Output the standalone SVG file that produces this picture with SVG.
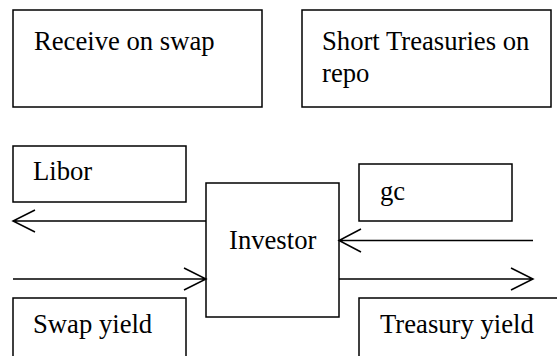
<svg xmlns="http://www.w3.org/2000/svg" width="557" height="356" viewBox="0 0 557 356">
<style>
.box{fill:#fff;stroke:#000;stroke-width:1.5}
.t{font-family:'Liberation Serif','DejaVu Serif',serif;font-size:26.67px;fill:#000}
.c{fill:none;stroke:#000;stroke-width:1.5}
</style>
<rect width="557" height="356" fill="#fff"/>
<g id="receive-on-swap"><rect class="box" x="13" y="10" width="249" height="97"/><text class="t" x="34" y="50">Receive on swap</text></g>
<g id="short-treasuries"><rect class="box" x="302" y="10" width="249" height="97"/><text class="t" x="322" y="50">Short Treasuries on</text><text class="t" x="322" y="82">repo</text></g>
<g id="libor"><rect class="box" x="13" y="146" width="173" height="56"/><text class="t" x="33" y="180">Libor</text></g>
<g id="gc"><rect class="box" x="359" y="164" width="153" height="57"/><text class="t" x="380" y="200">gc</text></g>
<g id="investor"><rect class="box" x="206" y="183" width="133" height="134"/><text class="t" x="229" y="249">Investor</text></g>
<g id="swap-yield"><rect class="box" x="13" y="298" width="173" height="70"/><text class="t" x="33" y="333">Swap yield</text></g>
<g id="treasury-yield"><rect class="box" x="359" y="298" width="210" height="70"/><text class="t" x="380" y="333">Treasury yield</text></g>
<g id="connectors">
<path class="c" d="M206 221H13M35 210L13 221L35 232"/>
<path class="c" d="M13 279H206M184 268L206 279L184 290"/>
<path class="c" d="M533 240.5H339M361 229L339 240.5L361 252"/>
<path class="c" d="M339 279H533M511 268L533 279L511 290"/>
</g>
</svg>
